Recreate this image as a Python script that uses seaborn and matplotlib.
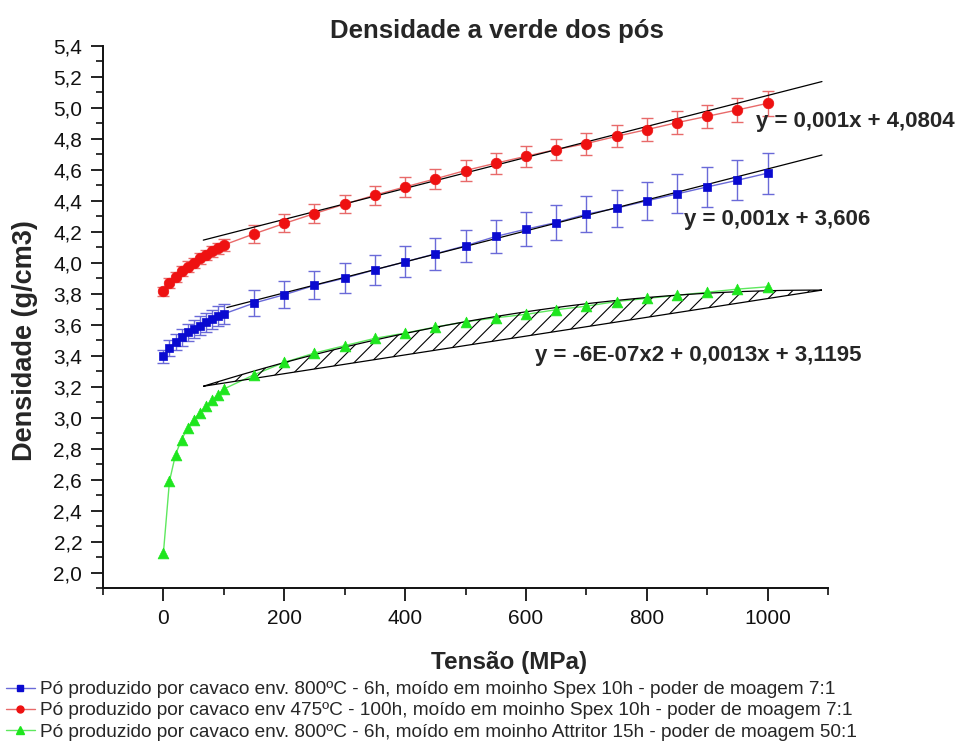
import numpy as np
import pandas as pd
import matplotlib
matplotlib.use("Agg")
import matplotlib.pyplot as plt
import seaborn as sns
from matplotlib.ticker import MultipleLocator, FuncFormatter
from matplotlib.lines import Line2D

# Compaction pressure (MPa)
tensao = [0, 10, 20, 30, 40, 50, 60, 70, 80, 90, 100,
          150, 200, 250, 300, 350, 400, 450, 500, 550, 600,
          650, 700, 750, 800, 850, 900, 950, 1000]

# Green density (g/cm3) for each powder
dens_spex_800 = [3.395, 3.45, 3.49, 3.52, 3.55, 3.575, 3.595, 3.615, 3.635, 3.655, 3.67,
                 3.740, 3.794, 3.854, 3.901, 3.955, 4.006, 4.058, 4.110, 4.170, 4.217,
                 4.260, 4.314, 4.353, 4.400, 4.445, 4.490, 4.533, 4.579]
err_spex_800 = [0.045, 0.05, 0.05, 0.055, 0.055, 0.058, 0.06, 0.06, 0.062, 0.064, 0.065,
                0.086, 0.088, 0.090, 0.095, 0.098, 0.100, 0.102, 0.105, 0.108, 0.110,
                0.113, 0.118, 0.120, 0.123, 0.126, 0.127, 0.130, 0.132]

dens_spex_475 = [3.815, 3.87, 3.91, 3.945, 3.975, 4.00, 4.03, 4.05, 4.075, 4.095, 4.115,
                 4.187, 4.254, 4.318, 4.379, 4.437, 4.490, 4.542, 4.596, 4.643, 4.688,
                 4.731, 4.770, 4.817, 4.860, 4.905, 4.946, 4.987, 5.030]
err_spex_475 = [0.03, 0.03, 0.032, 0.032, 0.034, 0.034, 0.035, 0.035, 0.036, 0.036, 0.037,
                0.057, 0.058, 0.060, 0.060, 0.062, 0.063, 0.065, 0.065, 0.067, 0.068,
                0.070, 0.071, 0.072, 0.073, 0.075, 0.076, 0.078, 0.080]

dens_attritor = [2.127, 2.589, 2.761, 2.858, 2.934, 2.987, 3.03, 3.073, 3.112, 3.148, 3.185,
                 3.277, 3.357, 3.417, 3.465, 3.512, 3.546, 3.585, 3.619, 3.645, 3.667,
                 3.697, 3.72, 3.75, 3.77, 3.79, 3.81, 3.83, 3.845]

legend_labels = [
    "Pó produzido por cavaco env. 800ºC - 6h, moído em moinho Spex 10h - poder de moagem 7:1",
    "Pó produzido por cavaco env 475ºC - 100h, moído em moinho Spex 10h - poder de moagem 7:1",
    "Pó produzido por cavaco env. 800ºC - 6h, moído em moinho Attritor 15h - poder de moagem 50:1",
]

# Trend-line coefficients (as printed on the chart)
fit_red = (0.001, 4.0804)
fit_blue = (0.001, 3.606)
fit_green = (-6e-07, 0.0013, 3.1195)
eq_red = "y = 0,001x + 4,0804"
eq_blue = "y = 0,001x + 3,606"
eq_green = "y = -6E-07x2 + 0,0013x + 3,1195"

sns.set_theme(style="ticks")
plt.rcParams["font.family"] = ["Liberation Sans", "DejaVu Sans"]
plt.rcParams["hatch.linewidth"] = 0.8

W, H = 960, 751
fig = plt.figure(figsize=(W / 100, H / 100), dpi=100)
ax = fig.add_axes([103 / W, 1 - 588 / H, (828 - 103) / W, (588 - 46) / H])

df = pd.DataFrame({
    "tensao": tensao,
    "spex_800": dens_spex_800,
    "spex_475": dens_spex_475,
    "attritor": dens_attritor,
})

blue, red, green = "#0a0ad0", "#ee1111", "#1ee61e"
blue_l, red_l, green_l = "#6a6ad8", "#e86a6a", "#5ee85e"

# error bars
ax.errorbar(tensao, dens_spex_800, yerr=err_spex_800, fmt="none", ecolor=blue_l,
            elinewidth=1.0, capsize=4.5, capthick=1.0, zorder=2)
ax.errorbar(tensao, dens_spex_475, yerr=err_spex_475, fmt="none", ecolor=red_l,
            elinewidth=1.0, capsize=4.5, capthick=1.0, zorder=2)

# connecting lines
for col, c in (("spex_800", blue_l), ("spex_475", red_l), ("attritor", green_l)):
    sns.lineplot(data=df, x="tensao", y=col, color=c, linewidth=1.0, ax=ax,
                 legend=False, zorder=3)

# trend lines
xr = np.linspace(66, 1090, 200)
ax.plot(xr, fit_red[0] * xr + fit_red[1], color="black", lw=0.9, zorder=4)
xb = np.linspace(105, 1090, 200)
ax.plot(xb, fit_blue[0] * xb + fit_blue[1], color="black", lw=0.9, zorder=4)
xg = np.linspace(66, 1090, 200)
yg = fit_green[0] * xg ** 2 + fit_green[1] * xg + fit_green[2]
ax.fill(xg, yg, facecolor="none", edgecolor="black", hatch="//", lw=0.9, zorder=4)

# markers
sns.scatterplot(data=df, x="tensao", y="spex_800", marker="s", s=36, color=blue,
                edgecolor=blue, linewidth=0.5, ax=ax, legend=False, zorder=5)
sns.scatterplot(data=df, x="tensao", y="spex_475", marker="o", s=58, color=red,
                edgecolor=red, linewidth=0.5, ax=ax, legend=False, zorder=5)
sns.scatterplot(data=df, x="tensao", y="attritor", marker="^", s=60, color=green,
                edgecolor=green, linewidth=0.5, ax=ax, legend=False, zorder=5)

# axes
ax.set_xlim(-100, 1100)
ax.set_ylim(1.9, 5.4)
ax.xaxis.set_major_locator(MultipleLocator(200))
ax.xaxis.set_minor_locator(MultipleLocator(100))
ax.yaxis.set_major_locator(MultipleLocator(0.2))
ax.yaxis.set_minor_locator(MultipleLocator(0.1))
ax.yaxis.set_major_formatter(FuncFormatter(lambda v, p: f"{v:.1f}".replace(".", ",")))
ax.set_xlabel("")
ax.set_ylabel("")
for s in ("top", "right"):
    ax.spines[s].set_visible(False)
for s in ("left", "bottom"):
    ax.spines[s].set_linewidth(1.4)
    ax.spines[s].set_color("#111111")
ax.tick_params(which="major", direction="out", length=9, width=1.3, labelsize=15,
               colors="#111111", pad=6)
ax.tick_params(which="minor", direction="out", length=5, width=1.2, colors="#111111")

# texts
fig.text(497 / W, 1 - 31 / H, "Densidade a verde dos pós", ha="center", va="center",
         fontsize=18.5, fontweight="bold")
fig.text(25 / W, 1 - 341 / H, "Densidade (g/cm3)", ha="center", va="center",
         rotation=90, fontsize=19.5, fontweight="bold")
fig.text(509 / W, 1 - 662 / H, "Tensão (MPa)", ha="center", va="center",
         fontsize=17.5, fontweight="bold")
fig.text(756 / W, 1 - 122 / H, eq_red, ha="left", va="center", fontsize=16,
         fontweight="bold")
fig.text(684 / W, 1 - 220 / H, eq_blue, ha="left", va="center", fontsize=16,
         fontweight="bold")
fig.text(535 / W, 1 - 355 / H, eq_green, ha="left", va="center", fontsize=16,
         fontweight="bold")

handles = [
    Line2D([], [], color=blue_l, lw=1.0, marker="s", ms=4, mfc=blue, mec=blue),
    Line2D([], [], color=red_l, lw=1.0, marker="o", ms=5, mfc=red, mec=red),
    Line2D([], [], color=green_l, lw=1.0, marker="^", ms=5.5, mfc=green, mec=green),
]
fig.legend(handles, legend_labels, loc="upper left", bbox_to_anchor=(6 / W, 1 - 681 / H),
           frameon=False, fontsize=13.7, handlelength=1.5, handletextpad=0.3,
           labelspacing=0.2, borderpad=0, borderaxespad=0)

fig.savefig("out.png", dpi=100)
